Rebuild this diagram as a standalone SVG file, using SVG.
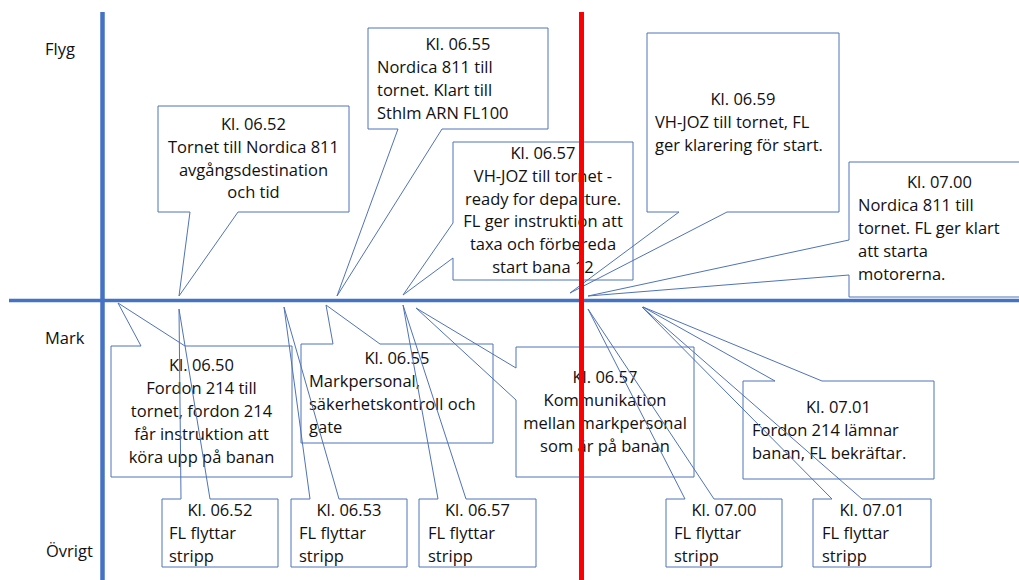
<svg xmlns="http://www.w3.org/2000/svg" width="1019" height="580" viewBox="0 0 1019 580">
<style>
.bg{fill:#ffffff;stroke:none}
.ol{fill:none;stroke:#4F73B8;stroke-width:1}
text{font-family:"Open Sans","Liberation Sans",sans-serif;font-size:16.5px;fill:#111111}
.c{text-anchor:middle}
.lbl{font-size:16.5px}
</style>
<rect width="1019" height="580" fill="#ffffff"/>
<g id="connectors">
<line x1="102.5" y1="12" x2="102.5" y2="580" stroke="#4472C4" stroke-width="4.5"/>
<line x1="9" y1="300.5" x2="1019" y2="300.5" stroke="#4472C4" stroke-width="3.5"/>
</g>
<g id="labels">
<text class="lbl" x="45" y="55">Flyg</text>
<text class="lbl" x="45" y="344">Mark</text>
<text class="lbl" x="46" y="557">Övrigt</text>
</g>
<g id="c0652">
<rect class="bg" x="158" y="106" width="191" height="106"/>
<path class="ol" d="M158,106 H349 V212 H238 L179,296 L190,212 H158 Z"/>
<text class="c" x="253.5" y="130">Kl. 06.52</text>
<text class="c" x="253.5" y="152.8">Tornet till Nordica 811</text>
<text class="c" x="253.5" y="175.6">avgångsdestination</text>
<text class="c" x="253.5" y="198.4">och tid</text>
</g>
<g id="c0655a">
<rect class="bg" x="368" y="28" width="180" height="101"/>
<path class="ol" d="M368,28 H548 V129 H442 L337,296 L398,129 H368 Z"/>
<text class="c" x="458" y="50">Kl. 06.55</text>
<text x="377" y="73">Nordica 811 till</text>
<text x="377" y="96">tornet. Klart till</text>
<text x="377" y="119">Sthlm ARN FL100</text>
</g>
<g id="c0657a">
<rect class="bg" x="453" y="142" width="180" height="138"/>
<path class="ol" d="M453,142 H633 V280 H453 V258 L403,295 L453,223 Z"/>
<text class="c" x="543" y="159">Kl. 06.57</text>
<text class="c" x="543" y="181.8">VH-JOZ till tornet -</text>
<text class="c" x="543" y="204.6">ready for departure.</text>
<text class="c" x="543" y="227.4">FL ger instruktion att</text>
<text class="c" x="543" y="250.2">taxa och förbereda</text>
<text class="c" x="543" y="273">start bana 12</text>
</g>
<g id="c0659">
<rect class="bg" x="647" y="33" width="192" height="179"/>
<path class="ol" d="M647,33 H839 V212 H727 L570,293 L679,212 H647 Z"/>
<text class="c" x="743" y="105">Kl. 06.59</text>
<text x="655" y="128">VH-JOZ till tornet, FL</text>
<text x="655" y="151">ger klarering för start.</text>
</g>
<g id="c0700a">
<rect class="bg" x="849" y="162" width="180" height="135"/>
<path class="ol" d="M849,162 H1030 V297 H849 V275 L588,296 L849,240 Z"/>
<text class="c" x="939.5" y="188">Kl. 07.00</text>
<text x="858" y="211">Nordica 811 till</text>
<text x="858" y="234">tornet. FL ger klart</text>
<text x="858" y="257">att starta</text>
<text x="858" y="280">motorerna.</text>
</g>
<g id="c0650">
<rect class="bg" x="111" y="346" width="181" height="131"/>
<path class="ol" d="M111,346 H141 L118,303 L185,346 H292 V477 H111 Z"/>
<text class="c" x="201.5" y="371">Kl. 06.50</text>
<text class="c" x="201.5" y="394">Fordon 214 till</text>
<text class="c" x="201.5" y="417">tornet, fordon 214</text>
<text class="c" x="201.5" y="440">får instruktion att</text>
<text class="c" x="201.5" y="463">köra upp på banan</text>
</g>
<g id="c0655b">
<rect class="bg" x="301" y="344" width="192" height="99"/>
<path class="ol" d="M301,344 H333 L326,305 L380,344 H493 V443 H301 Z"/>
<text class="c" x="397" y="364">Kl. 06.55</text>
<text x="309" y="387">Markpersonal,</text>
<text x="309" y="410">säkerhetskontroll och</text>
<text x="309" y="433">gate</text>
</g>
<g id="c0657b">
<rect class="bg" x="516" y="347" width="178" height="130"/>
<path class="ol" d="M516,347 H694 V477 H516 V400 L416,308 L516,368 Z"/>
<text class="c" x="605" y="383">Kl. 06.57</text>
<text class="c" x="605" y="406">Kommunikation</text>
<text class="c" x="605" y="429">mellan markpersonal</text>
<text class="c" x="605" y="452">som är på banan</text>
</g>
<g id="c0701a">
<rect class="bg" x="743" y="381" width="191" height="98"/>
<path class="ol" d="M743,381 H775 L643,307 L822,381 H934 V479 H743 Z"/>
<text class="c" x="838.5" y="413">Kl. 07.01</text>
<text x="752" y="436">Fordon 214 lämnar</text>
<text x="752" y="459">banan, FL bekräftar.</text>
</g>
<g id="s0652">
<rect class="bg" x="162" y="499" width="116" height="68"/>
<path class="ol" d="M162,499 H181 L179,309 L210,499 H278 V567 H162 Z"/>
<text class="c" x="220" y="516">Kl. 06.52</text>
<text x="169" y="539">FL flyttar</text>
<text x="169" y="562">stripp</text>
</g>
<g id="s0653">
<rect class="bg" x="291" y="499" width="116" height="68"/>
<path class="ol" d="M291,499 H310 L284,307 L339,499 H407 V567 H291 Z"/>
<text class="c" x="349" y="516">Kl. 06.53</text>
<text x="299" y="539">FL flyttar</text>
<text x="299" y="562">stripp</text>
</g>
<g id="s0657">
<rect class="bg" x="419" y="499" width="117" height="68"/>
<path class="ol" d="M419,499 H438 L403,305 L466,499 H536 V567 H419 Z"/>
<text class="c" x="477.5" y="516">Kl. 06.57</text>
<text x="428" y="539">FL flyttar</text>
<text x="428" y="562">stripp</text>
</g>
<g id="s0700">
<rect class="bg" x="666" y="499" width="116" height="68"/>
<path class="ol" d="M666,499 H685 L588,309 L714,499 H782 V567 H666 Z"/>
<text class="c" x="724" y="516">Kl. 07.00</text>
<text x="674" y="539">FL flyttar</text>
<text x="674" y="562">stripp</text>
</g>
<g id="s0701">
<rect class="bg" x="813" y="499" width="118" height="68"/>
<path class="ol" d="M813,499 H832 L642,307 L862,499 H931 V567 H813 Z"/>
<text class="c" x="872" y="516">Kl. 07.01</text>
<text x="822" y="539">FL flyttar</text>
<text x="822" y="562">stripp</text>
</g>
<g id="redline">
<line x1="581.5" y1="12" x2="581.5" y2="580" stroke="#FF0000" stroke-width="5"/>
</g>
</svg>
